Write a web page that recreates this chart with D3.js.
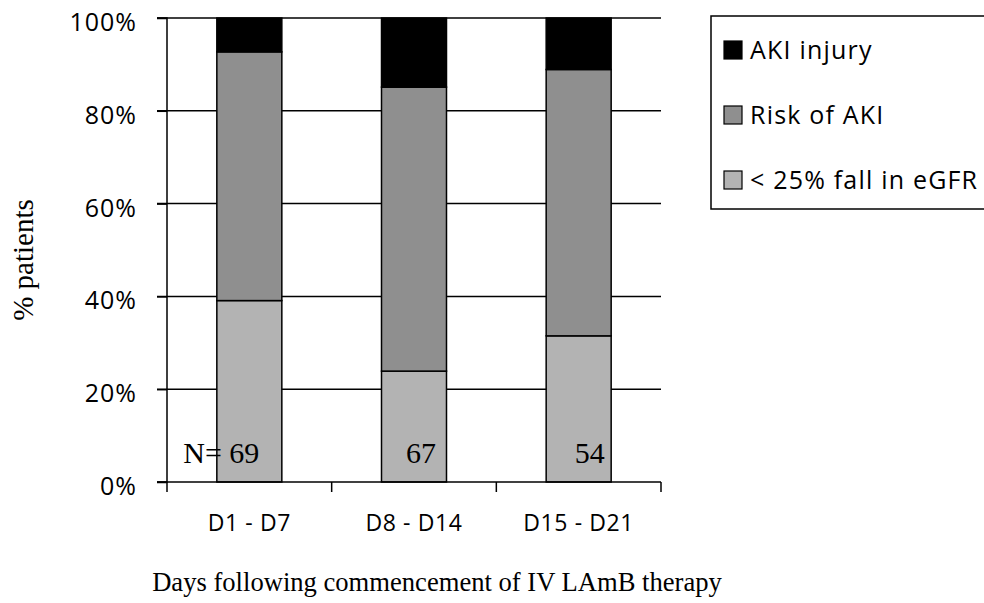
<!DOCTYPE html>
<html>
<head>
<meta charset="utf-8">
<script src="https://cdn.jsdelivr.net/npm/d3@7"></script>
<style>
  html, body { margin: 0; padding: 0; background: #fff; }
  svg { display: block; }
  .sans { font-family: "Open Sans", "Liberation Sans", sans-serif; }
  .serif { font-family: "Liberation Serif", "Times New Roman", serif; }
</style>
</head>
<body>
<svg id="chart" width="984" height="603"></svg>
<script>
// ---- data ----
const categories = ["D1 - D7", "D8 - D14", "D15 - D21"];
const seriesNames = ["< 25% fall in eGFR", "Risk of AKI", "AKI injury"];
const fallEGFR = [39.1, 23.9, 31.5];
const riskAKI  = [53.6, 61.2, 57.4];
const akiInjury = [7.3, 14.9, 11.1];
const nLabels = ["N= 69", "67", "54"];
const yTicks = [0, 20, 40, 60, 80, 100];
const colors = ["#b3b3b3", "#8f8f8f", "#000000"];

const svg = d3.select("#chart");
const pLeft = 167, pRight = 661, pTop = 18, pBottom = 482;

const x = d3.scaleBand().domain(categories).range([pLeft, pRight]).paddingInner(0).paddingOuter(0);
const y = d3.scaleLinear().domain([0, 100]).range([pBottom, pTop]);

const rows = categories.map((c, i) => ({
  cat: c,
  [seriesNames[0]]: fallEGFR[i],
  [seriesNames[1]]: riskAKI[i],
  [seriesNames[2]]: akiInjury[i]
}));
const stacked = d3.stack().keys(seriesNames)(rows);

// gridlines
svg.append("g")
  .selectAll("line")
  .data(yTicks.filter(t => t > 0))
  .join("line")
  .attr("x1", pLeft - 10).attr("x2", pRight)
  .attr("y1", d => y(d)).attr("y2", d => y(d))
  .attr("stroke", "#000").attr("stroke-width", 1.5);

// bars
const barW = 65;
const bw = x.bandwidth();
svg.append("g")
  .selectAll("g")
  .data(stacked)
  .join("g")
  .attr("fill", (d, i) => colors[i])
  .selectAll("rect")
  .data(d => d)
  .join("rect")
  .attr("x", d => x(d.data.cat) + (bw - barW) / 2)
  .attr("width", barW)
  .attr("y", d => y(d[1]))
  .attr("height", d => y(d[0]) - y(d[1]))
  .attr("stroke", "#000")
  .attr("stroke-width", 1.5);

// y axis
const yAxis = d3.axisLeft(y).tickValues(yTicks).tickFormat(d => d + "%").tickSize(10).tickPadding(20);
const gy = svg.append("g").attr("transform", `translate(${pLeft},0)`).call(yAxis);
gy.select(".domain").attr("stroke", "#000").attr("stroke-width", 1.5).attr("d", `M-10,${pTop}H0V${pBottom}H-10`);
gy.selectAll(".tick line").attr("stroke", "#000").attr("stroke-width", 1.5);
gy.selectAll(".tick text").attr("class", "sans").attr("font-size", 25).attr("letter-spacing", 1)
  .attr("fill", "#000").attr("dy", "0.5em");

// x axis
const xTickPos = categories.map(c => x(c)).concat([pRight]);
const gx = svg.append("g");
gx.append("line").attr("x1", pLeft - 10).attr("x2", pRight).attr("y1", pBottom).attr("y2", pBottom)
  .attr("stroke", "#000").attr("stroke-width", 1.5);
gx.selectAll("line.tk").data(xTickPos).join("line").attr("class", "tk")
  .attr("x1", d => d).attr("x2", d => d).attr("y1", pBottom).attr("y2", pBottom + 10)
  .attr("stroke", "#000").attr("stroke-width", 1.5);
gx.selectAll("text").data(categories).join("text")
  .attr("class", "sans").attr("font-size", 23).attr("letter-spacing", 0.6)
  .attr("x", d => x(d) + bw / 2).attr("y", 531).attr("text-anchor", "middle").text(d => d);

// N labels
const nAnchorDx = [10, 22, 26];
svg.append("g").selectAll("text").data(nLabels).join("text")
  .attr("class", "serif").attr("font-size", 30)
  .attr("x", (d, i) => x(categories[i]) + bw / 2 + nAnchorDx[i])
  .attr("y", 463).attr("text-anchor", "end").text(d => d);

// axis titles
svg.append("text").attr("class", "serif").attr("font-size", 26.6)
  .attr("x", 437).attr("y", 591).attr("text-anchor", "middle")
  .text("Days following commencement of IV LAmB therapy");
svg.append("text").attr("class", "serif").attr("font-size", 29)
  .attr("transform", "translate(33,260) rotate(-90)").attr("text-anchor", "middle")
  .text("% patients");

// legend
const lg = svg.append("g");
lg.append("rect").attr("x", 711).attr("y", 16).attr("width", 290).attr("height", 193)
  .attr("fill", "#fff").attr("stroke", "#000").attr("stroke-width", 1.5);
const legendOrder = [2, 1, 0];
const ly = d3.scalePoint().domain(legendOrder).range([50, 180]);
const li = lg.selectAll("g.item").data(legendOrder).join("g").attr("class", "item")
  .attr("transform", d => `translate(724,${ly(d)})`);
li.append("rect").attr("x", 0).attr("y", -9).attr("width", 18).attr("height", 18)
  .attr("fill", d => colors[d]).attr("stroke", "#000").attr("stroke-width", 1.2);
li.append("text").attr("class", "sans").attr("font-size", 25).attr("letter-spacing", 1.2)
  .attr("x", 26).attr("y", 0).attr("dy", "0.36em").text(d => seriesNames[d]);
</script>
</body>
</html>
